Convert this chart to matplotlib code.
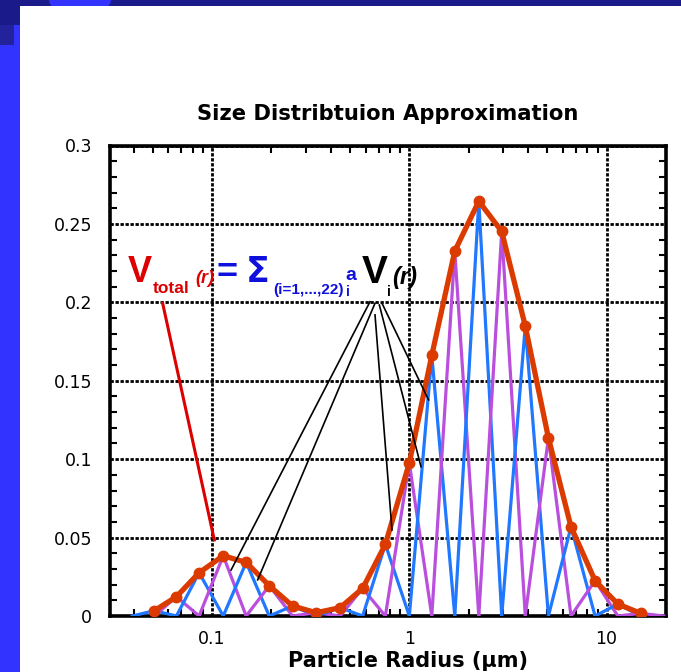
import numpy as np
import matplotlib
matplotlib.use("Agg")
import matplotlib.pyplot as plt
from matplotlib.patches import Rectangle, Ellipse
from matplotlib.ticker import FixedLocator, NullFormatter, MultipleLocator

plt.rcParams['font.family'] = ['DejaVu Sans']

# Node radii (µm) of the 22 basis functions and the fitted total at each node
radius = [0.051, 0.066, 0.086, 0.114, 0.149, 0.195, 0.256, 0.337, 0.446, 0.58, 0.756,
          1.0, 1.30, 1.70, 2.25, 2.94, 3.87, 5.07, 6.60, 8.74, 11.4, 14.9]
v_total = [0.0034, 0.0123, 0.0276, 0.0384, 0.0342, 0.0193, 0.0064, 0.0021, 0.0053,
           0.0176, 0.0457, 0.0976, 0.1662, 0.2327, 0.2645, 0.2452, 0.1849, 0.1136,
           0.0569, 0.0225, 0.0076, 0.0017]
x_ticks = [0.1, 1, 10]
x_tick_labels = ['0.1', '1', '10']
y_ticks = [0, 0.05, 0.1, 0.15, 0.2, 0.25, 0.3]
y_tick_labels = ['0', '0.05', '0.1', '0.15', '0.2', '0.25', '0.3']

# Leader lines from the formula to the curves: ((x0, y0), (x1, y1)) in data units
red_leader = ((0.0562, 0.1994), (0.1027, 0.0485))
black_leaders = [((0.632, 0.2004), (0.1249, 0.0293)),
                 ((0.670, 0.1994), (0.1703, 0.0230)),
                 ((0.670, 0.1920), (0.817, 0.0548)),
                 ((0.705, 0.1983), (1.146, 0.0952)),
                 ((0.727, 0.1994), (1.252, 0.1378))]

W, H = 681, 672
fig = plt.figure(figsize=(W / 100, H / 100), dpi=100, facecolor='white')


def fx(px):
    return px / W


def fy(py):
    return 1 - py / H


# slide backdrop
fig.patches.append(Rectangle((0, 0), 1, 1, transform=fig.transFigure,
                             facecolor='#3333ff', edgecolor='none', zorder=-10))
fig.patches.append(Rectangle((0, fy(6)), 1, 6 / H, transform=fig.transFigure,
                             facecolor='#1a1a8a', edgecolor='none', zorder=-9))
fig.patches.append(Ellipse((fx(80), fy(0)), 62 / W, 30 / H, transform=fig.transFigure,
                           facecolor='#3333ff', edgecolor='none', zorder=-8))
fig.patches.append(Rectangle((0, fy(45)), 14 / W, 45 / H, transform=fig.transFigure,
                             facecolor='#22229a', edgecolor='none', zorder=-8))
fig.patches.append(Rectangle((0, fy(25)), 20 / W, 25 / H, transform=fig.transFigure,
                             facecolor='#1a1a8a', edgecolor='none', zorder=-8))
fig.patches.append(Rectangle((fx(20), 0), 1 - fx(20), fy(6), transform=fig.transFigure,
                             facecolor='white', edgecolor='none', zorder=-7))

ax = fig.add_axes([fx(110), fy(616), fx(666) - fx(110), fy(145.5) - fy(616)])
ax.set_facecolor('none')
ax.set_xscale('log')
ax.set_xlim(0.0304, 20.0)
ax.set_ylim(0, 0.3)

# basis functions: triangles in log radius, alternating colours
lr = np.log10(radius)
r_left = 10 ** (2 * lr[0] - lr[1])
r_right = 10 ** (2 * lr[-1] - lr[-2])
n = len(radius)
for i in range(n):
    r_prev = radius[i - 1] if i > 0 else r_left
    r_next = radius[i + 1] if i < n - 1 else r_right
    col = '#1f78ff' if i % 2 == 0 else '#bb4fdd'
    ax.plot([r_prev, radius[i], r_next], [0, v_total[i], 0], color=col, lw=2.3,
            solid_joinstyle='miter', zorder=3)

ax.plot(radius, v_total, color='#db3b00', lw=3.8, marker='o', ms=7.5,
        markerfacecolor='#db3b00', markeredgecolor='#db3b00', zorder=5)

# leader lines
(x0, y0), (x1, y1) = red_leader
ax.plot([x0, x1], [y0, y1], color='#dd0000', lw=2.2, zorder=6, clip_on=False)
for (x0, y0), (x1, y1) in black_leaders:
    ax.plot([x0, x1], [y0, y1], color='black', lw=1.2, zorder=6, clip_on=False)

# grid and ticks
ax.set_axisbelow(True)
ax.set_xticks(x_ticks, x_tick_labels)
minor_x = [m * 10.0 ** e for e in range(-2, 2) for m in range(2, 10)]
ax.xaxis.set_minor_locator(FixedLocator(minor_x))
ax.xaxis.set_minor_formatter(NullFormatter())
ax.set_yticks(y_ticks, y_tick_labels)
ax.yaxis.set_minor_locator(MultipleLocator(0.01))
ax.grid(True, which='major', color='black', lw=2.0, linestyle=(0, (1.2, 0.6)))
ax.tick_params(which='both', direction='in', top=True, right=True, width=1.5,
               colors='black')
ax.tick_params(which='major', length=0, labelsize=12.5)
ax.tick_params(axis='y', which='major', pad=13)
ax.tick_params(axis='x', which='major', pad=10)
ax.tick_params(which='minor', length=5)
for sp in ax.spines.values():
    sp.set_linewidth(2.6)
    sp.set_color('black')

ax.set_title('Size Distribtuion Approximation', fontsize=15.2, fontweight='bold', pad=18)
ax.set_xlabel('Particle Radius (\u03bcm)', fontsize=15, fontweight='bold')
ax.xaxis.set_label_coords((408 - 110) / 556, -0.075)

# formula
RED = '#dd0000'
BLUE = '#1010dd'
SANS = ['Liberation Sans', 'DejaVu Sans']


def put(px, py, s, size, color, style='normal', family=SANS):
    fig.text(fx(px), fy(py), s, fontsize=size, color=color, fontweight='bold',
             fontstyle=style, family=family, ha='left', va='baseline')


put(128, 282, 'V', 26, RED)
put(153, 293, 'total', 12.5, RED)
put(195, 283, '(r)', 13, RED, style='italic')
put(217, 283, '=', 26, BLUE)
put(246, 282, '\u03a3', 25, BLUE, family=['DejaVu Sans'])
put(273, 294, '(i=1,...,22)', 11, BLUE)
put(345, 280, 'a', 14, BLUE)
put(346, 296, 'i', 10, BLUE)
put(362, 283, 'V', 28, 'black')
put(387, 296, 'i', 10, 'black')
put(392, 284, '(r)', 17, 'black', style='italic')

fig.savefig('out.png', dpi=100, facecolor=fig.get_facecolor())
